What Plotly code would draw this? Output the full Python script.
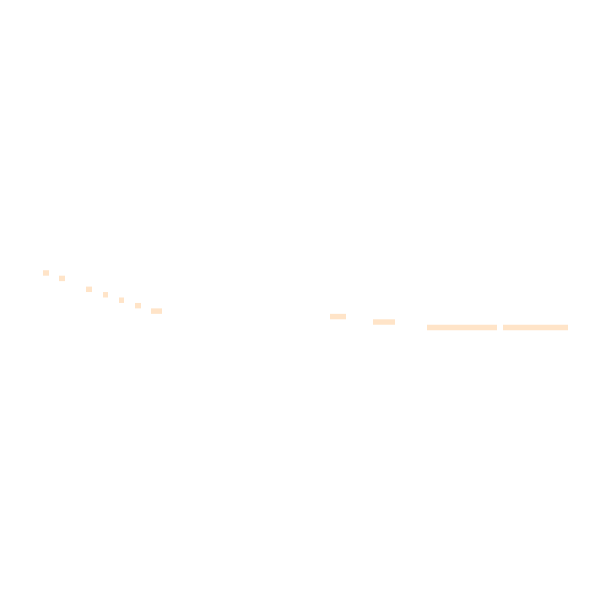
import plotly.graph_objects as go

# one bar per row (x in pixel-like units, rows top to bottom)
rows = [0, 1, 3, 4, 5, 6, 7, 8, 9, 10, 10]
starts = [43, 59, 86, 103, 119, 135, 151, 330, 373, 427, 503]
ends = [49, 65, 92, 108, 124, 141, 162, 346, 395, 497, 568]
lengths = [e - s for s, e in zip(starts, ends)]

BAR_COLOR = "#FFE4C8"

fig = go.Figure()
fig.add_trace(
    go.Bar(
        y=rows,
        x=lengths,
        base=starts,
        orientation="h",
        width=1,
        marker=dict(color=BAR_COLOR, line=dict(width=0)),
        hoverinfo="skip",
    )
)

# the page body adds an 8px margin, so the figure is 584px and ranges start there
fig.update_layout(
    width=584,
    height=584,
    margin=dict(l=0, r=0, t=0, b=0),
    showlegend=False,
    plot_bgcolor="white",
    paper_bgcolor="white",
    xaxis=dict(visible=False, range=[8, 592]),
    yaxis=dict(visible=False, range=[58.54, -48.62]),
)

fig.write_html("out.html")
